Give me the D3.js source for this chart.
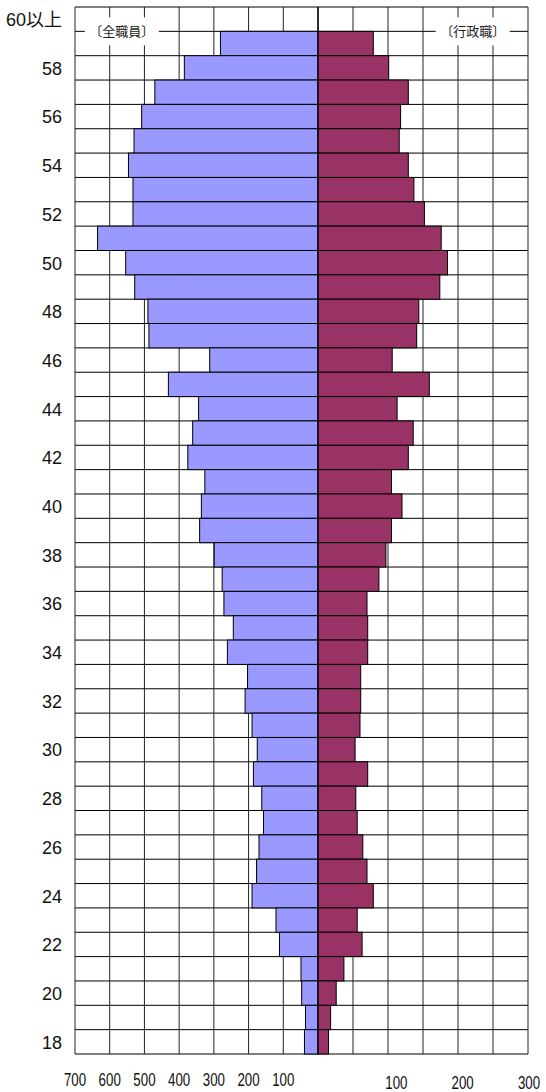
<!DOCTYPE html>
<html>
<head>
<meta charset="utf-8">
<script src="https://cdn.jsdelivr.net/npm/d3@7"></script>
<style>
  body { margin: 0; background: #fff; }
  svg { display: block; }
</style>
</head>
<body>
<div id="chart"></div>
<script>
// rows top to bottom (60以上 row holds the headers, no bars)
const ages = ["60以上", "59", "58", "57", "56", "55", "54", "53", "52", "51", "50",
  "49", "48", "47", "46", "45", "44", "43", "42", "41", "40",
  "39", "38", "37", "36", "35", "34", "33", "32", "31", "30",
  "29", "28", "27", "26", "25", "24", "23", "22", "21", "20", "19", "18"];

// 全職員
const allStaff = [null, 281, 385, 470, 508, 530, 546, 533, 533, 635, 554,
  528, 490, 487, 312, 431, 344, 361, 375, 326, 336,
  341, 299, 276, 271, 244, 261, 203, 210, 190, 175,
  186, 162, 157, 170, 177, 190, 121, 111, 49, 47, 36, 39];

// 行政職
const adminStaff = [null, 79, 101, 129, 118, 116, 129, 137, 152, 176, 185,
  174, 144, 141, 106, 159, 113, 136, 129, 105, 120,
  105, 97, 87, 70, 71, 71, 61, 61, 60, 53,
  71, 54, 56, 64, 70, 79, 56, 63, 37, 26, 18, 15];

const ageLabels = ["60以上", "58", "56", "54", "52", "50", "48", "46", "44", "42", "40",
  "38", "36", "34", "32", "30", "28", "26", "24", "22", "20", "18"];
const leftTicks = [0, 100, 200, 300, 400, 500, 600, 700];
const rightTicks = [0, 50, 100, 150, 200, 250, 300];
const leftTickLabels = [700, 600, 500, 400, 300, 200, 100];
const rightTickLabels = [100, 200, 300];

const width = 546, height = 1092;
const plot = {left: 75, center: 318, right: 528, top: 7, bottom: 1054};

let svg = d3.select("#chart")
    .append("svg")
    .attr("width", width)
    .attr("height", height);

let xL = d3.scaleLinear().domain([0, 700]).range([plot.center, plot.left]);
let xR = d3.scaleLinear().domain([0, 300]).range([plot.center, plot.right]);
// labels under the right half sit a little off the grid in the original
let xRLabel = d3.scaleLinear().domain([0, 300]).range([plot.center + 12, plot.right + 1]);

let y = d3.scaleBand()
    .domain(ages)
    .range([plot.top, plot.bottom])
    .padding(0);

let data = ages.map((a, i) => ({age: a, all: allStaff[i], admin: adminStaff[i]}))
    .filter(d => d.all != null);

// grid
let grid = svg.append("g");
grid.selectAll("line.h")
    .data(ages.concat(["end"]))
    .enter().append("line")
    .attr("x1", plot.left).attr("x2", plot.right)
    .attr("y1", d => d == "end" ? plot.bottom : y(d))
    .attr("y2", d => d == "end" ? plot.bottom : y(d))
    .attr("stroke", "#000")
    .attr("stroke-width", 1);

grid.selectAll("line.vl")
    .data(leftTicks)
    .enter().append("line")
    .attr("x1", d => xL(d)).attr("x2", d => xL(d))
    .attr("y1", plot.top).attr("y2", plot.bottom)
    .attr("stroke", "#222")
    .attr("stroke-width", 1);

grid.selectAll("line.vr")
    .data(rightTicks)
    .enter().append("line")
    .attr("x1", d => xR(d)).attr("x2", d => xR(d))
    .attr("y1", plot.top).attr("y2", plot.bottom)
    .attr("stroke", "#222")
    .attr("stroke-width", 1);

// bars
svg.selectAll("rect.all")
    .data(data)
    .enter().append("rect")
    .attr("x", d => xL(d.all))
    .attr("y", d => y(d.age))
    .attr("width", d => xL(0) - xL(d.all))
    .attr("height", y.bandwidth())
    .attr("fill", "#9999ff")
    .attr("stroke", "#000")
    .attr("stroke-width", 1);

svg.selectAll("rect.admin")
    .data(data)
    .enter().append("rect")
    .attr("x", xR(0))
    .attr("y", d => y(d.age))
    .attr("width", d => xR(d.admin) - xR(0))
    .attr("height", y.bandwidth())
    .attr("fill", "#993366")
    .attr("stroke", "#000")
    .attr("stroke-width", 1);

// centre line
svg.append("line")
    .attr("x1", plot.center).attr("x2", plot.center)
    .attr("y1", plot.top).attr("y2", plot.bottom)
    .attr("stroke", "#000");

// header labels on the first bar line
let headY = y("59");
[{text: "〔全職員〕", x: xL(565)}, {text: "〔行政職〕", x: xR(221)}].forEach(h => {
    svg.append("rect")
        .attr("x", h.x - 37).attr("y", headY - 14)
        .attr("width", 74).attr("height", 28)
        .attr("fill", "#fff");
    svg.append("text")
        .attr("x", h.x).attr("y", headY)
        .attr("dy", "0.36em")
        .style("text-anchor", "middle")
        .style("font-family", "'Noto Sans CJK JP'")
        .style("font-size", "13px")
        .style("fill", "#222")
        .text(h.text);
});

// age labels
svg.selectAll("text.age")
    .data(ageLabels)
    .enter().append("text")
    .attr("x", 62)
    .attr("y", d => y(d) + y.bandwidth() / 2)
    .attr("dy", "0.38em")
    .style("text-anchor", "end")
    .style("font-family", "'Liberation Sans', 'Noto Sans CJK JP'")
    .style("font-size", "18px")
    .style("fill", "#111")
    .text(d => d);

// value labels under the grid (narrow)
svg.selectAll("text.lt")
    .data(leftTickLabels)
    .enter().append("text")
    .attr("transform", d => `translate(${xL(d)}, 1086) scale(0.74, 1)`)
    .style("text-anchor", "middle")
    .style("font-family", "'Liberation Sans'")
    .style("font-size", "18px")
    .style("fill", "#111")
    .text(d => d);

svg.selectAll("text.rt")
    .data(rightTickLabels)
    .enter().append("text")
    .attr("transform", d => `translate(${xRLabel(d)}, 1089) scale(0.74, 1)`)
    .style("text-anchor", "middle")
    .style("font-family", "'Liberation Sans'")
    .style("font-size", "18px")
    .style("fill", "#111")
    .text(d => d);
</script>
</body>
</html>
